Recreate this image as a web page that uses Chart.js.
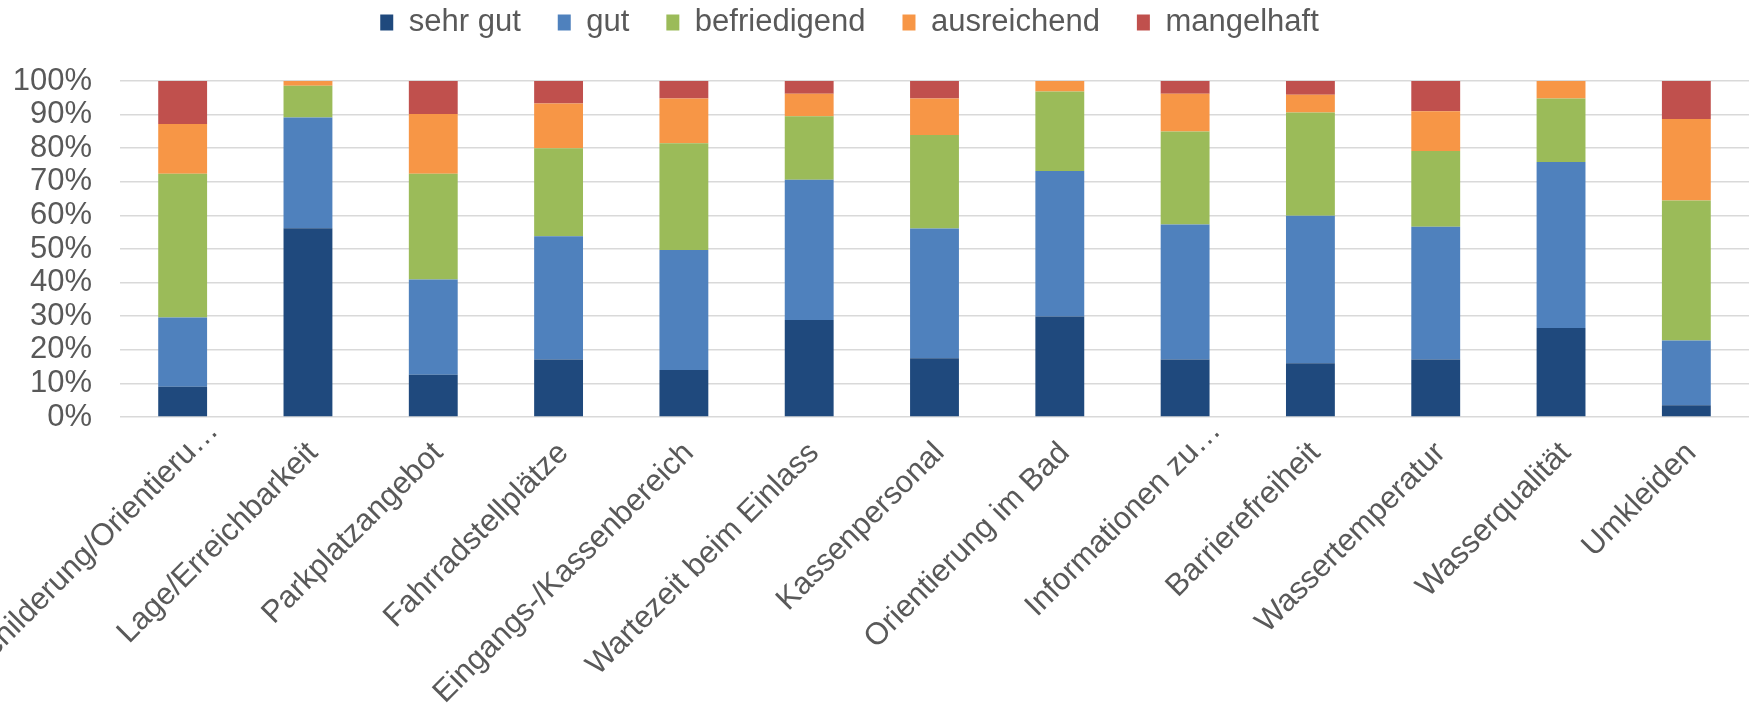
<!DOCTYPE html>
<html>
<head>
<meta charset="utf-8">
<script src="https://cdn.jsdelivr.net/npm/chart.js@4"></script>
<style>
    body { margin: 0; background: #ffffff; }
    #wrap { width: 1756px; height: 713px; }
</style>
</head>
<body>
<div id="wrap"><canvas id="ratingChart" width="1756" height="713"></canvas></div>
<script>
// Categories (x axis)
const categories = [
    'Beschilderung/Orientieru…',
    'Lage/Erreichbarkeit',
    'Parkplatzangebot',
    'Fahrradstellplätze',
    'Eingangs-/Kassenbereich',
    'Wartezeit beim Einlass',
    'Kassenpersonal',
    'Orientierung im Bad',
    'Informationen zu…',
    'Barrierefreiheit',
    'Wassertemperatur',
    'Wasserqualität',
    'Umkleiden'
];

// Shares in percent
const sehrGut      = [9.0, 56.2, 12.6, 17.1, 14.0, 28.9, 17.5, 29.9, 17.1, 16.0, 17.1, 26.5, 3.5];
const gut          = [20.6, 32.9, 28.3, 36.7, 35.7, 41.7, 38.6, 43.3, 40.2, 43.9, 39.5, 49.4, 19.3];
const befriedigend = [42.8, 9.5, 31.5, 26.2, 31.8, 18.9, 27.8, 23.7, 27.7, 30.7, 22.6, 18.9, 41.6];
const ausreichend  = [14.8, 1.4, 17.8, 13.3, 13.3, 6.7, 10.9, 3.1, 11.2, 5.3, 11.8, 5.2, 24.3];
const mangelhaft   = [12.8, 0, 9.8, 6.7, 5.2, 3.8, 5.2, 0, 3.8, 4.1, 9.0, 0, 11.3];

const yTicks = [0, 10, 20, 30, 40, 50, 60, 70, 80, 90, 100];

const colors = {
    sehrGut: '#1f497d',
    gut: '#4f81bd',
    befriedigend: '#9bbb59',
    ausreichend: '#f79646',
    mangelhaft: '#c0504d',
    text: '#595959',
    grid: '#d9d9d9'
};

const fontFamily = '"Liberation Sans", Arial, sans-serif';

function series(label, data, color) {
    return {
        label: label,
        data: data,
        backgroundColor: color,
        borderWidth: 0,
        barPercentage: 0.39,
        categoryPercentage: 1
    };
}

// push the plot down below the legend and shift the legend a bit left
const legendSpacing = {
    id: 'legendSpacing',
    beforeInit(chart) {
        const fit = chart.legend.fit;
        chart.legend.fit = function () {
            fit.bind(chart.legend)();
            this.height += 33;
        };
    },
    afterLayout(chart) {
        chart.legend.right -= 50;
    }
};

// Excel places the cut-off labels (ending in "…") further up along the text
const truncatedLabels = {
    id: 'truncatedLabels',
    beforeDraw(chart) {
        const items = chart.scales.x.getLabelItems();
        items.forEach(item => {
            if (!item.shifted && String(item.label).endsWith('…')) {
                const t = item.options.translation;
                item.options.translation = [t[0] + 26, t[1] - 22];
                item.shifted = true;
            }
        });
    }
};

const ctx = document.getElementById('ratingChart');
new Chart(ctx, {
    type: 'bar',
    data: {
        labels: categories,
        datasets: [
            series('sehr gut', sehrGut, colors.sehrGut),
            series('gut', gut, colors.gut),
            series('befriedigend', befriedigend, colors.befriedigend),
            series('ausreichend', ausreichend, colors.ausreichend),
            series('mangelhaft', mangelhaft, colors.mangelhaft)
        ]
    },
    options: {
        responsive: false,
        animation: false,
        layout: {
            padding: { top: -30, left: 0, right: 7, bottom: 0 }
        },
        plugins: {
            legend: {
                position: 'top',
                labels: {
                    color: colors.text,
                    boxWidth: 13,
                    boxHeight: 16,
                    padding: 37,
                    font: { family: fontFamily, size: 31 }
                }
            },
            tooltip: { enabled: false }
        },
        scales: {
            x: {
                stacked: true,
                grid: { display: false },
                border: { display: false },
                ticks: {
                    color: colors.text,
                    font: { family: fontFamily, size: 31 },
                    minRotation: 45,
                    maxRotation: 45,
                    autoSkip: false,
                    labelOffset: 5,
                    padding: 10
                },
                afterFit(scale) {
                    scale.height = 296;
                    scale.paddingLeft = 0;
                    scale.paddingRight = 0;
                }
            },
            y: {
                stacked: true,
                min: 0,
                max: 100,
                afterBuildTicks(scale) {
                    scale.ticks = yTicks.map(v => ({ value: v }));
                },
                grid: {
                    color: colors.grid,
                    lineWidth: 1.5,
                    drawTicks: false
                },
                border: { display: false },
                ticks: {
                    color: colors.text,
                    font: { family: fontFamily, size: 31 },
                    padding: 28,
                    autoSkip: false,
                    callback: v => v + '%'
                },
                afterFit(scale) {
                    scale.width = 120;
                }
            }
        }
    },
    plugins: [legendSpacing, truncatedLabels]
});
</script>
</body>
</html>
